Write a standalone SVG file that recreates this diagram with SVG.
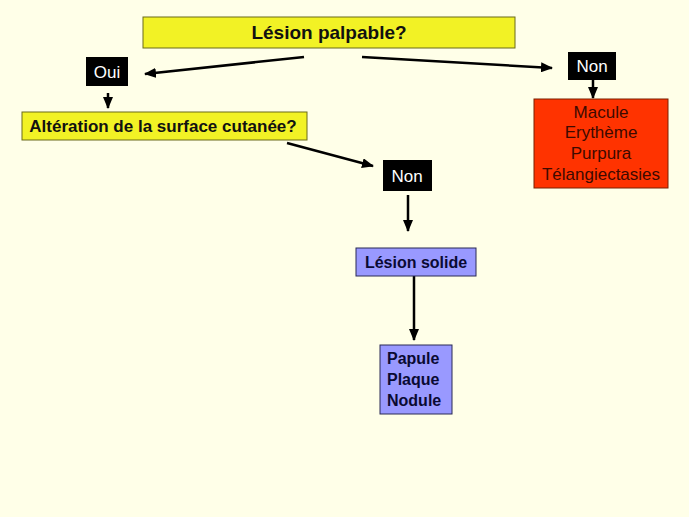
<svg xmlns="http://www.w3.org/2000/svg" width="689" height="517" viewBox="0 0 689 517">
<style>
text{font-family:"Liberation Sans",Arial,sans-serif;text-anchor:middle}
.y{fill:#f2f225;stroke:#6b6b1a;stroke-width:1}
.k{fill:#000}
.kt{fill:#fff;font-size:17px}
.r{fill:#ff3300;stroke:#7a2000;stroke-width:1}
.rt{fill:#3d0a00;font-size:17px}
.p{fill:#9999ff;stroke:#2a2a55;stroke-width:1}
.pt{fill:#0a0a33;font-size:16px;font-weight:bold}
.b{fill:#111;font-weight:bold}
.c{stroke:#000;stroke-width:2.5;fill:none;marker-end:url(#ah)}
</style>
<defs>
<marker id="ah" markerUnits="userSpaceOnUse" markerWidth="12" markerHeight="10" refX="11" refY="5" orient="auto">
<path d="M0,0 L12,5 L0,10 Z" fill="#000"/>
</marker>
</defs>
<rect width="689" height="517" fill="#ffffe8"/>
<g id="connectors">
<line class="c" x1="304" y1="57" x2="145" y2="74"/>
<line class="c" x1="362" y1="57" x2="552" y2="68"/>
<line class="c" x1="108" y1="93" x2="108" y2="108"/>
<line class="c" x1="593" y1="80" x2="593" y2="98"/>
<line class="c" x1="287" y1="143" x2="373" y2="166"/>
<line class="c" x1="408" y1="195" x2="408" y2="231"/>
<line class="c" x1="414" y1="276" x2="414" y2="340"/>
</g>
<g id="q1">
<rect class="y" x="143" y="17" width="372" height="31"/>
<text class="b" x="329" y="39" font-size="19">Lésion palpable?</text>
</g>
<g id="oui">
<rect class="k" x="86" y="57" width="42" height="29"/>
<text class="kt" x="107" y="78">Oui</text>
</g>
<g id="q2">
<rect class="y" x="22" y="112" width="285" height="28"/>
<text class="b" x="163" y="132" font-size="17">Altération de la surface cutanée?</text>
</g>
<g id="non1">
<rect class="k" x="568" y="52" width="48" height="28"/>
<text class="kt" x="592" y="72">Non</text>
</g>
<g id="macule">
<rect class="r" x="534" y="99" width="134" height="89"/>
<text class="rt" x="601" y="118">Macule</text>
<text class="rt" x="601" y="138">Erythème</text>
<text class="rt" x="601" y="159">Purpura</text>
<text class="rt" x="601" y="180">Télangiectasies</text>
</g>
<g id="non2">
<rect class="k" x="383" y="160" width="49" height="31"/>
<text class="kt" x="407" y="182">Non</text>
</g>
<g id="solide">
<rect class="p" x="356" y="248" width="120" height="28"/>
<text class="pt" x="416" y="268">Lésion solide</text>
</g>
<g id="papule">
<rect class="p" x="380" y="345" width="72" height="69"/>
<text class="pt" x="387" y="364" style="text-anchor:start">Papule</text>
<text class="pt" x="387" y="385" style="text-anchor:start">Plaque</text>
<text class="pt" x="387" y="406" style="text-anchor:start">Nodule</text>
</g>
</svg>
